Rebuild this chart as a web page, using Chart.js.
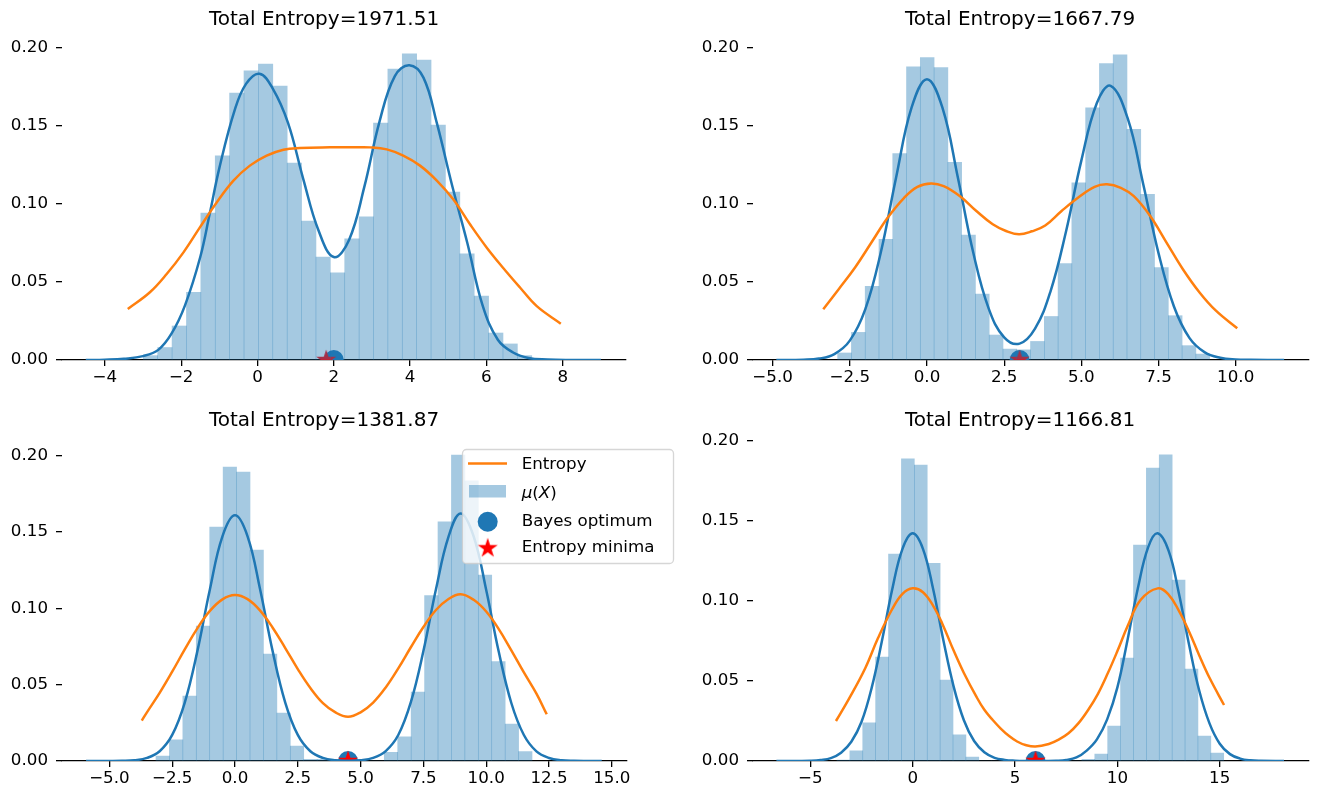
<!DOCTYPE html>
<html>
<head>
<meta charset="utf-8">
<title>Total entropy</title>
<script src="https://cdn.jsdelivr.net/npm/chart.js@4.4.1/dist/chart.umd.min.js"></script>
<style>
    html, body { margin: 0; padding: 0; background: #fff; overflow: hidden; }
    #wrap { position: relative; width: 1320px; height: 794px; }
    #wrap canvas { position: absolute; }
</style>
</head>
<body>
<div id="wrap">
    <canvas id="chart2" width="660" height="400" style="left:660px;top:0px"></canvas>
    <canvas id="chart4" width="660" height="394" style="left:660px;top:400px"></canvas>
    <canvas id="chart1" width="690" height="400" style="left:0px;top:0px"></canvas>
    <canvas id="chart3" width="690" height="394" style="left:0px;top:400px"></canvas>
</div>
<script>
document.addEventListener('DOMContentLoaded', function () {
    "use strict";

    var titles = ["Total Entropy=1971.51", "Total Entropy=1667.79", "Total Entropy=1381.87", "Total Entropy=1166.81"];
    var legendLabels = ["Entropy", "μ(X)", "Bayes optimum", "Entropy minima"];
    var yTicks = [0, 0.05, 0.10, 0.15, 0.20];

    // --- top left
    var binStart1 = -2.993, binWidth1 = 0.3771;
    var hist1 = [0.0028, 0.008, 0.0218, 0.0434, 0.0942, 0.1308, 0.1711, 0.1853, 0.1897, 0.1756, 0.1263, 0.0891, 0.066, 0.0558,
        0.0776, 0.0917, 0.1519, 0.1865, 0.1962, 0.1923, 0.1506, 0.1077, 0.068, 0.041, 0.0173, 0.0103, 0.0028];
    var kdeX1 = [-4.5, -4, -3.5, -3, -2.6, -2.25, -1.9, -1.5, -1.25, -1, -0.6, -0.3, 0.05, 0.4, 0.8, 1.2, 1.6, 2.0, 2.4, 2.8,
        3.2, 3.6, 3.98, 4.35, 4.7, 5.1, 5.5, 5.9, 6.3, 6.7, 7.1, 7.6, 8.2, 9.0];
    var kdeY1 = [0, 0.0002, 0.0008, 0.0025, 0.0065, 0.017, 0.035, 0.066, 0.094, 0.123, 0.16, 0.177, 0.1835, 0.174, 0.152, 0.116, 0.083, 0.066, 0.077, 0.111,
        0.153, 0.182, 0.189, 0.181, 0.152, 0.112, 0.075, 0.035, 0.013, 0.0048, 0.0013, 0.0003, 0, 0];
    var entX1 = [-3.4, -2.82, -2.38, -1.94, -1.51, -1.07, -0.63, -0.2, 0.24, 0.68, 1.11, 1.9, 2.5, 2.95, 3.39, 3.82, 4.26, 4.7, 5.13,
        5.57, 6.01, 6.44, 6.88, 7.32, 7.95];
    var entY1 = [0.0327, 0.0434, 0.0551, 0.069, 0.085, 0.101, 0.115, 0.1246, 0.131, 0.1348, 0.1359, 0.1363, 0.1363, 0.1363, 0.135, 0.131, 0.1246, 0.115, 0.103,
        0.087, 0.072, 0.059, 0.0465, 0.0345, 0.0233];
    var bayes1 = 2.0, entMin1 = 1.8;
    var xTicks1 = [-4, -2, 0, 2, 4, 6, 8];

    // --- top right
    var binStart2 = -2.894, binWidth2 = 0.4463;
    var hist2 = [0.0045, 0.0177, 0.0473, 0.0774, 0.1324, 0.188, 0.1938, 0.1874, 0.1267, 0.08, 0.0422, 0.016, 0.007, 0.0065,
        0.0119, 0.0279, 0.0618, 0.1136, 0.1616, 0.19, 0.1957, 0.1478, 0.1062, 0.0593, 0.0284, 0.0092, 0.0038];
    var kdeX2 = [-4.88, -4, -3.5, -3, -2.5, -2, -1.5, -1, -0.5, 0, 0.5, 1, 1.5, 2, 2.5, 3, 3.5, 4, 4.5, 5,
        5.5, 5.95, 6.5, 7, 7.5, 8, 8.5, 9, 9.5, 10, 10.5, 11.57];
    var kdeY2 = [0, 0.0002, 0.0009, 0.0038, 0.0124, 0.0324, 0.0686, 0.117, 0.1617, 0.18, 0.1617, 0.117, 0.0687, 0.0329, 0.0145, 0.0105, 0.0201, 0.0439, 0.0821, 0.1278,
        0.1646, 0.1758, 0.155, 0.1132, 0.0685, 0.0343, 0.0142, 0.0049, 0.0014, 0.0003, 0.0001, 0];
    var entX2 = [-3.36, -2.86, -2.33, -1.8, -1.27, -0.74, -0.31, 0.13, 0.54, 1.07, 1.6, 2.13, 2.56, 2.98, 3.4, 3.83, 4.36, 4.89, 5.43, 5.83,
        6.28, 6.7, 7.23, 7.76, 8.29, 8.83, 9.36, 10.05];
    var entY2 = [0.0326, 0.0454, 0.0593, 0.0753, 0.0913, 0.104, 0.111, 0.1132, 0.1115, 0.105, 0.0955, 0.087, 0.0827, 0.0806, 0.0825, 0.0862, 0.0955, 0.104, 0.111, 0.1126,
        0.1104, 0.105, 0.0923, 0.0753, 0.0582, 0.0433, 0.0316, 0.0203];
    var bayes2 = 3.0, entMin2 = 3.0;
    var xTicks2 = [-5, -2.5, 0, 2.5, 5, 7.5, 10];

    // --- bottom left
    var binStart3 = -3.145, binWidth3 = 0.5346;
    var hist3 = [0.0033, 0.0138, 0.0426, 0.0884, 0.1533, 0.1926, 0.1893, 0.1382, 0.0701, 0.0314, 0.0098, 0.0011, 0.0011, 0, 0, 0, 0,
        0.0057, 0.0159, 0.0452, 0.1083, 0.1566, 0.2004, 0.1836, 0.1218, 0.0651, 0.0242, 0.0061];
    var kdeX3 = [-5.93, -5, -4.5, -4, -3.5, -3, -2.5, -2, -1.5, -1, -0.5, 0, 0.5, 1, 1.5, 2, 2.5, 3, 3.5, 4,
        4.5, 5, 5.5, 6, 6.5, 7, 7.5, 8, 8.5, 8.98, 9.5, 10, 10.5, 11, 11.5, 12, 12.5, 13, 13.5, 14, 14.6];
    var kdeY3 = [0, 0.00002, 0.0001, 0.0005, 0.002, 0.0064, 0.0171, 0.0383, 0.0718, 0.1124, 0.1472, 0.161, 0.1472, 0.1124, 0.0718, 0.0383, 0.0171, 0.0064, 0.002, 0.0005,
        0.0002, 0.0005, 0.002, 0.0065, 0.017, 0.0385, 0.072, 0.1125, 0.147, 0.1622, 0.1472, 0.112, 0.0715, 0.038, 0.017, 0.0063, 0.002, 0.0005, 0.0001, 0, 0];
    var entX3 = [-3.71, -3.5, -3, -2.5, -2, -1.5, -1, -0.5, 0, 0.5, 1, 1.5, 2, 2.5, 3, 3.5, 4, 4.5, 5, 5.5,
        6, 6.5, 7, 7.5, 8, 8.5, 8.98, 9.5, 10, 10.5, 11, 11.5, 12, 12.41];
    var entY3 = [0.0265, 0.032, 0.0446, 0.0585, 0.0731, 0.0869, 0.0983, 0.1059, 0.1087, 0.106, 0.0985, 0.0873, 0.074, 0.0602, 0.0478, 0.0379, 0.0318, 0.029, 0.0319, 0.0383,
        0.0482, 0.0607, 0.0745, 0.0878, 0.0989, 0.1061, 0.1092, 0.1056, 0.0979, 0.0864, 0.0725, 0.058, 0.0441, 0.0306];
    var bayes3 = 4.5, entMin3 = 4.5;
    var xTicks3 = [-5, -2.5, 0, 2.5, 5, 7.5, 10, 12.5, 15];

    // --- bottom right
    var binStart4 = -3.70, binWidth4 = 0.6298;
    var hist4 = [0.0006, 0.0063, 0.0238, 0.065, 0.1294, 0.1888, 0.185, 0.1235, 0.0506, 0.0163, 0.0025, 0, 0, 0, 0, 0, 0, 0, 0, 0.001,
        0.0044, 0.0219, 0.0644, 0.135, 0.1831, 0.1913, 0.1131, 0.0575, 0.0156, 0.005];
    var kdeX4 = [-6.66, -5.5, -5, -4.5, -4, -3.5, -3, -2.5, -2, -1.5, -1, -0.5, 0, 0.5, 1, 1.5, 2, 2.5, 3, 3.5,
        4, 4.5, 5, 5.5, 6, 6.5, 7, 7.5, 8, 8.5, 9, 9.5, 10, 10.5, 11, 11.5, 11.96, 12.5, 13, 13.5,
        14, 14.5, 15, 15.5, 16, 16.5, 17, 18.14];
    var kdeY4 = [0, 0, 0.0001, 0.0006, 0.0018, 0.0052, 0.012, 0.0245, 0.046, 0.0753, 0.1073, 0.1326, 0.1423, 0.1326, 0.1073, 0.0753, 0.0465, 0.0255, 0.0125, 0.0055,
        0.002, 0.0007, 0.0002, 0, 0, 0, 0.0001, 0.0006, 0.0022, 0.0065, 0.0135, 0.026, 0.046, 0.076, 0.108, 0.1335, 0.1423, 0.1315, 0.105, 0.0728,
        0.0439, 0.0235, 0.0108, 0.0043, 0.0015, 0.0004, 0.0001, 0];
    var entX4 = [-3.75, -3.11, -2.32, -1.7, -1, -0.5, 0, 0.5, 1, 1.44, 2, 2.5, 3.11, 3.5, 3.91, 4.3, 4.71, 5.1, 5.51, 5.99,
        6.65, 7.13, 7.61, 8.09, 8.57, 9.05, 9.53, 10.01, 10.49, 11.13, 11.97, 12.5, 13, 13.5, 14, 14.5, 15.21];
    var entY4 = [0.025, 0.039, 0.058, 0.0767, 0.095, 0.1045, 0.1079, 0.1055, 0.097, 0.086, 0.069, 0.055, 0.0402, 0.032, 0.0256, 0.0203, 0.0156, 0.0122, 0.010, 0.009,
        0.0106, 0.0133, 0.0173, 0.0235, 0.0319, 0.042, 0.0548, 0.069, 0.084, 0.1006, 0.1079, 0.104, 0.094, 0.081, 0.066, 0.052, 0.035];
    var bayes4 = 6.0, entMin4 = 6.0;
    var xTicks4 = [-5, 0, 5, 10, 15];

    var BLUE = "#1f77b4";
    var ORANGE = "#ff7f0e";
    var BAR = "rgba(31,119,180,0.4)";
    var FONT = "'DejaVu Sans', sans-serif";
    var FS = 16.7;

    Chart.defaults.font.family = FONT;
    Chart.defaults.font.size = FS;
    Chart.defaults.color = "#000";

    function pairs(xs, ys) {
        return xs.map(function (x, i) { return {x: x, y: ys[i]}; });
    }

    function bins(start, width, heights) {
        return heights.map(function (h, i) { return {x: start + (i + 0.5) * width, y: h}; });
    }

    function fmtX(v, dec) {
        var s = Math.abs(v).toFixed(dec);
        return (v < 0 ? "\u2212" : "") + s;
    }

    function starImage(r, color) {
        var c = document.createElement('canvas');
        var s = Math.ceil(r * 2 + 3);
        c.width = s;
        c.height = s;
        var g = c.getContext('2d');
        g.translate(s / 2, s / 2);
        g.beginPath();
        for (var i = 0; i < 10; i++) {
            var rr = i % 2 === 0 ? r : r * 0.382;
            var a = -Math.PI / 2 + i * Math.PI / 5;
            g.lineTo(rr * Math.cos(a), rr * Math.sin(a));
        }
        g.closePath();
        g.fillStyle = color;
        g.fill();
        return c;
    }

    var star = starImage(10.5, "red");

    // the title sits a little left of the axes centre, as in the original figure
    var titleShift = {
        id: 'titleShift',
        afterLayout: function (chart, args, opts) {
            var b = chart.titleBlock;
            if (!b) return;
            var half = (b.right - b.left) / 2;
            b.left = opts.cx - half;
            b.right = opts.cx + half;
        }
    };

    // legend box drawn in the bottom-left panel, partly outside its axes
    var boxLegend = {
        id: 'boxLegend',
        afterDraw: function (chart) {
            var c = chart.ctx;
            var x = 462.5, y = 49.5, w = 211, h = 114, r = 4;
            c.save();
            c.beginPath();
            c.moveTo(x + r, y);
            c.lineTo(x + w - r, y);
            c.arcTo(x + w, y, x + w, y + r, r);
            c.lineTo(x + w, y + h - r);
            c.arcTo(x + w, y + h, x + w - r, y + h, r);
            c.lineTo(x + r, y + h);
            c.arcTo(x, y + h, x, y + h - r, r);
            c.lineTo(x, y + r);
            c.arcTo(x, y, x + r, y, r);
            c.closePath();
            c.fillStyle = "rgba(255,255,255,0.8)";
            c.fill();
            c.strokeStyle = "rgba(204,204,204,0.8)";
            c.lineWidth = 1.3;
            c.stroke();

            // handles
            c.beginPath();
            c.moveTo(468, 63.5);
            c.lineTo(507, 63.5);
            c.strokeStyle = ORANGE;
            c.lineWidth = 2.5;
            c.stroke();

            c.fillStyle = BAR;
            c.fillRect(469, 85, 37, 12.5);

            c.beginPath();
            c.arc(487.7, 121.7, 10, 0, Math.PI * 2);
            c.fillStyle = BLUE;
            c.fill();

            c.drawImage(star, 487.7 - star.width / 2, 148.3 - star.height / 2);

            // labels
            var base = [69.3, 98.3, 126, 152.3];
            c.fillStyle = "#000";
            c.textBaseline = "alphabetic";
            c.textAlign = "left";
            legendLabels.forEach(function (t, i) {
                var px = 521.7;
                if (t.indexOf("(") >= 0) {
                    // mathtext look: letters oblique, brackets upright
                    t.split("").forEach(function (ch) {
                        c.font = (/[A-Za-zμ]/.test(ch) ? "oblique " : "") + FS + "px " + FONT;
                        c.fillText(ch, px, base[i]);
                        px += c.measureText(ch).width;
                    });
                } else {
                    c.font = FS + "px " + FONT;
                    c.fillText(t, px, base[i]);
                }
            });
            c.restore();
        }
    };

    function panel(id, o) {
        var ctx = document.getElementById(id);
        var plugins = [titleShift];
        if (o.extra) plugins.push(o.extra);
        return new Chart(ctx, {
            type: 'bar',
            data: {
                datasets: [{
                    type: 'line',
                    label: legendLabels[0],
                    data: pairs(o.entX, o.entY),
                    borderColor: ORANGE,
                    borderWidth: 2.5,
                    pointRadius: 0,
                    tension: 0.4,
                    order: 0
                }, {
                    type: 'line',
                    label: 'kde',
                    data: pairs(o.kdeX, o.kdeY),
                    borderColor: BLUE,
                    borderWidth: 2.5,
                    pointRadius: 0,
                    tension: 0.4,
                    order: 1
                }, {
                    type: 'bar',
                    label: legendLabels[1],
                    data: bins(o.binStart, o.binWidth, o.hist),
                    backgroundColor: BAR,
                    borderWidth: 0,
                    barPercentage: 1,
                    categoryPercentage: 1,
                    order: 2
                }, {
                    type: 'line',
                    label: legendLabels[3],
                    data: [{x: o.entMin, y: 0}],
                    showLine: false,
                    pointStyle: star,
                    pointRadius: 10,
                    pointHoverRadius: 10,
                    clip: 0,
                    order: 3
                }, {
                    type: 'line',
                    label: legendLabels[2],
                    data: [{x: o.bayes, y: 0}],
                    showLine: false,
                    pointRadius: 10,
                    pointHoverRadius: 10,
                    pointBackgroundColor: BLUE,
                    pointBorderWidth: 0,
                    clip: 0,
                    order: 4
                }]
            },
            options: {
                responsive: false,
                animation: false,
                devicePixelRatio: 1,
                layout: { padding: { left: 0, right: o.padR, top: 0, bottom: 0 } },
                plugins: {
                    legend: { display: false },
                    tooltip: { enabled: false },
                    titleShift: { cx: o.titleX },
                    title: {
                        display: true,
                        text: o.title,
                        color: "#000",
                        font: { size: 20, weight: 'normal', family: FONT, lineHeight: 1.2 },
                        padding: { top: o.tTop, bottom: o.tBottom }
                    }
                },
                scales: {
                    x: {
                        type: 'linear',
                        min: o.xMin,
                        max: o.xMax,
                        offset: false,
                        afterBuildTicks: function (s) {
                            s.ticks = o.xTicks.map(function (v) { return {value: v}; });
                        },
                        afterFit: function (s) { s.height = o.xAxisH; },
                        ticks: {
                            autoSkip: false,
                            maxRotation: 0,
                            padding: 2,
                            color: "#000",
                            callback: function (v) { return fmtX(v, o.dec); }
                        },
                        grid: { offset: false, drawOnChartArea: false, tickLength: 6, color: "#000", lineWidth: 1.3 },
                        border: { display: true, color: "#000", width: 1.3 }
                    },
                    y: {
                        type: 'linear',
                        min: 0,
                        max: o.yMax,
                        afterBuildTicks: function (s) {
                            s.ticks = yTicks.map(function (v) { return {value: v}; });
                        },
                        afterFit: function (s) { s.width = o.yAxisW; },
                        ticks: {
                            autoSkip: false,
                            padding: 8,
                            color: "#000",
                            callback: function (v) { return v.toFixed(2); }
                        },
                        grid: { drawOnChartArea: false, tickLength: 6, color: "#000", lineWidth: 1.3 },
                        border: { display: false }
                    }
                }
            },
            plugins: plugins
        });
    }

    panel('chart1', {
        title: titles[0], binStart: binStart1, binWidth: binWidth1, hist: hist1,
        kdeX: kdeX1, kdeY: kdeY1, entX: entX1, entY: entY1, bayes: bayes1, entMin: entMin1,
        xTicks: xTicks1, dec: 0, xMin: -5.124, xMax: 9.659, yMax: 0.20577,
        padR: 64, yAxisW: 62, xAxisH: 40, tTop: 8, tBottom: 7, titleX: 324
    });
    panel('chart2', {
        title: titles[1], binStart: binStart2, binWidth: binWidth2, hist: hist2,
        kdeX: kdeX2, kdeY: kdeY2, entX: entX2, entY: entY2, bayes: bayes2, entMin: entMin2,
        xTicks: xTicks2, dec: 1, xMin: -5.636, xMax: 12.375, yMax: 0.20577,
        padR: 2, yAxisW: 93, xAxisH: 40, tTop: 8, tBottom: 7, titleX: 360
    });
    panel('chart3', {
        title: titles[2], binStart: binStart3, binWidth: binWidth3, hist: hist3,
        kdeX: kdeX3, kdeY: kdeY3, entX: entX3, entY: entY3, bayes: bayes3, entMin: entMin3,
        xTicks: xTicks3, dec: 1, xMin: -6.887, xMax: 15.605, yMax: 0.21047,
        padR: 63, yAxisW: 62, xAxisH: 33, tTop: 8.7, tBottom: 7, titleX: 324, extra: boxLegend
    });
    panel('chart4', {
        title: titles[3], binStart: binStart4, binWidth: binWidth4, hist: hist4,
        kdeX: kdeX4, kdeY: kdeY4, entX: entX4, entY: entY4, bayes: bayes4, entMin: entMin4,
        xTicks: xTicks4, dec: 0, xMin: -7.803, xMax: 19.361, yMax: 0.20081,
        padR: 2, yAxisW: 93, xAxisH: 33, tTop: 8.7, tBottom: 7, titleX: 360
    });
});
</script>
</body>
</html>
